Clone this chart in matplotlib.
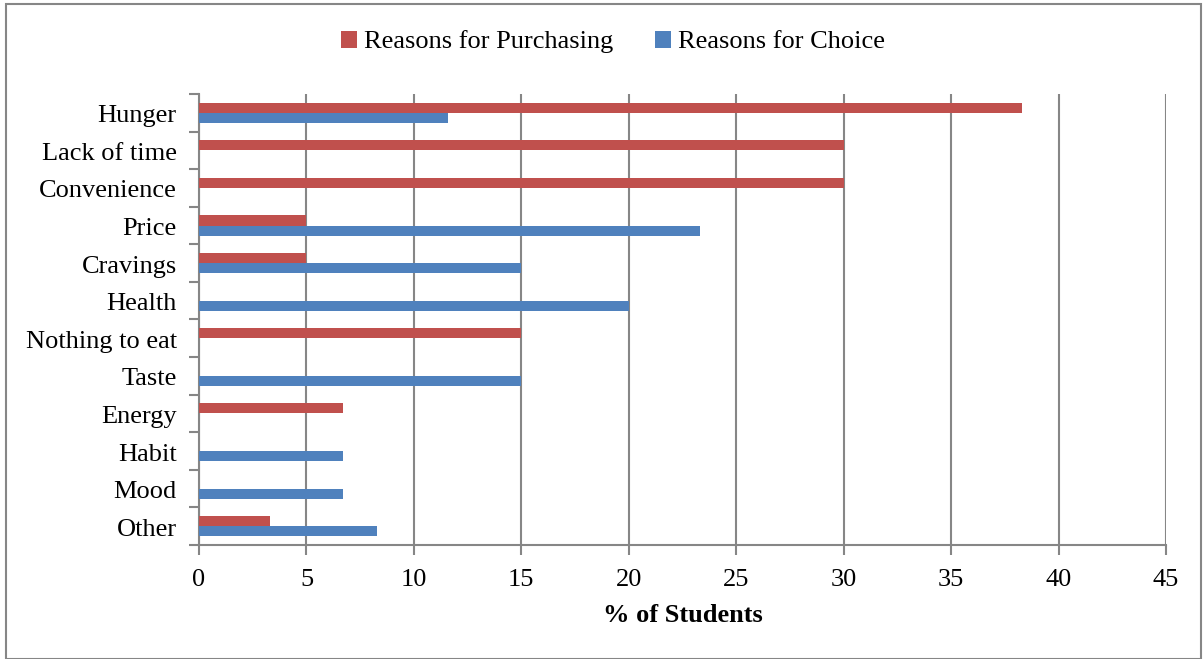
import matplotlib
matplotlib.use('Agg')
import matplotlib.pyplot as plt
import matplotlib.transforms as mtransforms
from matplotlib.patches import Rectangle
import numpy as np

plt.rcParams['font.family'] = ['Liberation Serif', 'DejaVu Serif']

categories = ['Hunger', 'Lack of time', 'Convenience', 'Price', 'Cravings', 'Health',
              'Nothing to eat', 'Taste', 'Energy', 'Habit', 'Mood', 'Other']
purchasing = [38.3, 30, 30, 5, 5, 0, 15, 0, 6.7, 0, 0, 3.3]
choice = [11.6, 0, 0, 23.3, 15, 20, 0, 15, 0, 6.7, 6.7, 8.3]

RED = '#C0504D'
BLUE = '#4F81BD'
GRID = '#868686'
FS = 19

fig = plt.figure(figsize=(12.04, 6.59), dpi=100)
ax = fig.add_axes([199/1204, 1 - 545/659, (1166 - 199)/1204, (545 - 94)/659])

y = np.arange(len(categories))[::-1]
h = 0.27
ax.barh(y + h/2, purchasing, height=h, color=RED, label='Reasons for Purchasing', zorder=3)
ax.barh(y - h/2, choice, height=h, color=BLUE, label='Reasons for Choice', zorder=3)

ax.set_xlim(0, 45)
ax.set_ylim(-0.5, len(categories) - 0.5)
ax.set_xticks(np.arange(0, 46, 5))
ax.set_yticks(y)
ax.set_yticklabels(categories, fontsize=FS)
ax.tick_params(axis='x', labelsize=FS, length=7, color=GRID, width=1.5, pad=10)
ax.tick_params(axis='y', length=0, pad=16)
# category boundary ticks
ax.set_yticks(np.arange(-0.5, len(categories), 1), minor=True)
ax.tick_params(axis='y', which='minor', length=7, color=GRID, width=1.5)

# nudge category labels down a little
offset = mtransforms.ScaledTranslation(0, -1/100, fig.dpi_scale_trans)
for lbl in ax.get_yticklabels():
    lbl.set_transform(lbl.get_transform() + offset)

ax.grid(axis='x', color=GRID, linewidth=1.5, zorder=0)
for s in ['top', 'right']:
    ax.spines[s].set_visible(False)
for s in ['left', 'bottom']:
    ax.spines[s].set_color(GRID)
    ax.spines[s].set_linewidth(1.5)

ax.set_xlabel('% of Students', fontsize=FS, fontweight='bold', labelpad=10)

fig.legend(loc='center', bbox_to_anchor=(613/1204, 1 - 42/659), ncol=2, frameon=False,
           fontsize=FS, handlelength=0.6, handleheight=0.6, handletextpad=0.25, columnspacing=1.6)

fig.patches.append(Rectangle((6/1204, 0), (1201 - 6)/1204, 1 - 4/659, transform=fig.transFigure,
                             fill=False, edgecolor=GRID, linewidth=1.5))

fig.savefig('out.png', dpi=100)
